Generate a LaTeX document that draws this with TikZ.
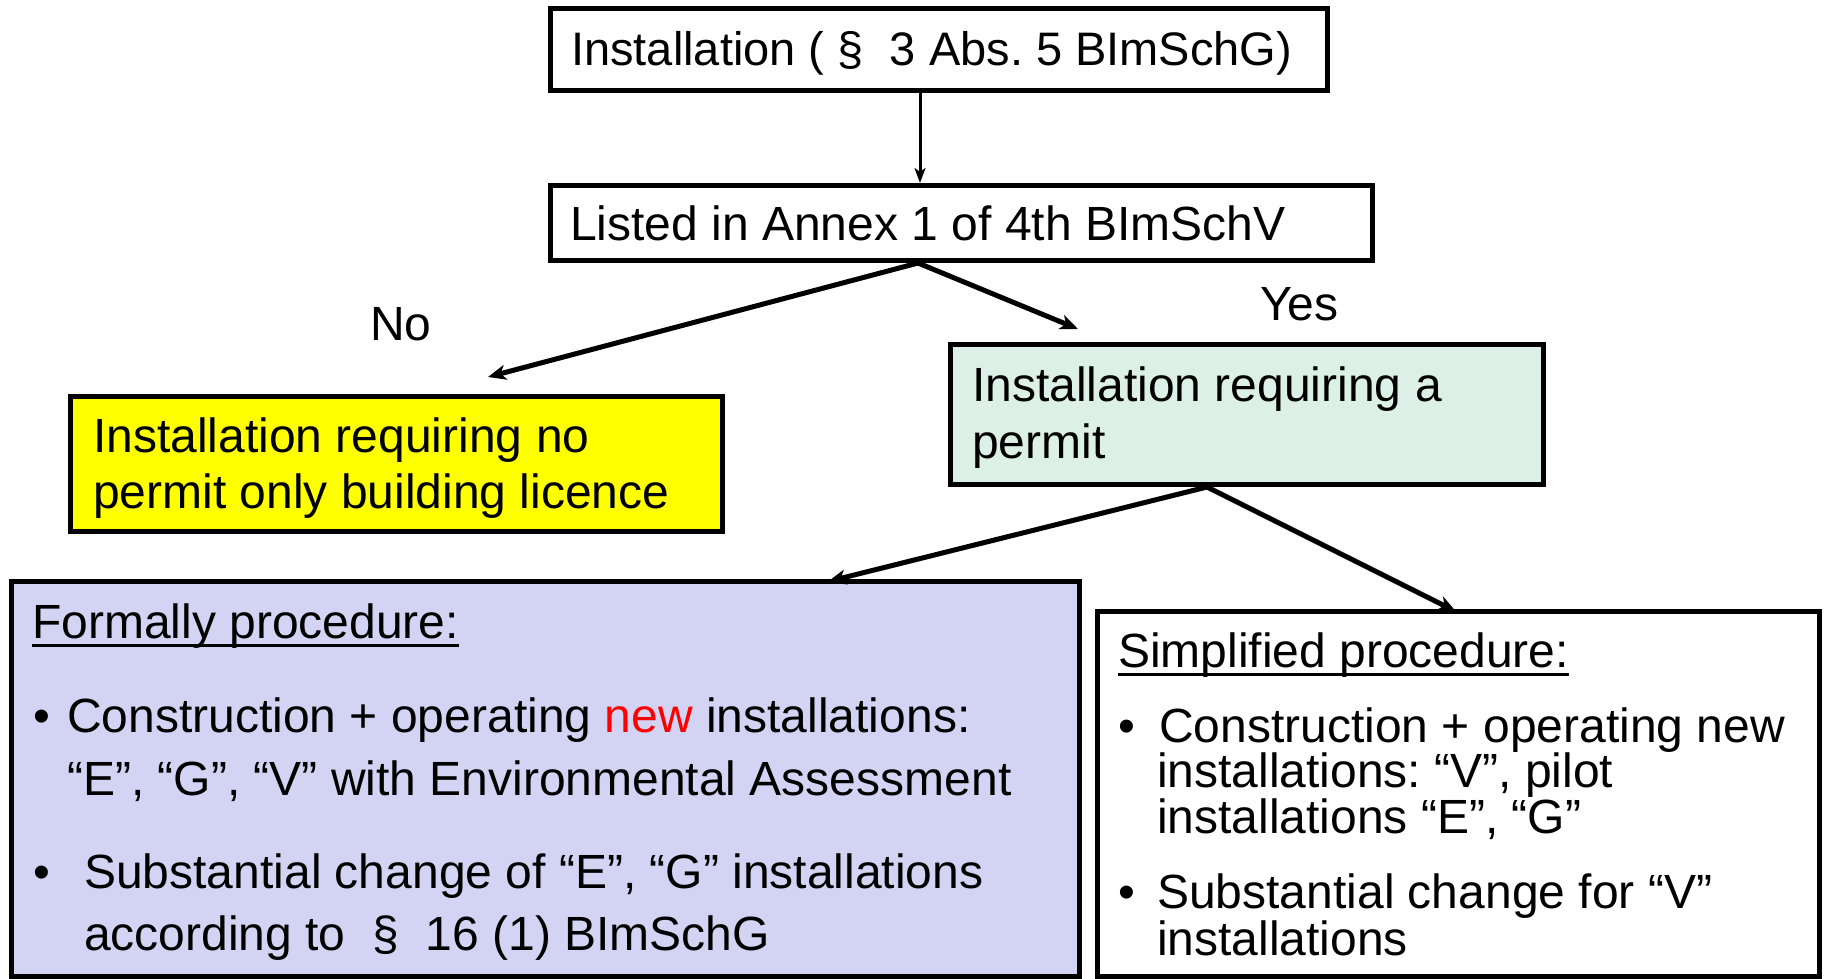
\documentclass[tikz,border=0pt]{standalone}
\usepackage{fontspec}
\setmainfont{Liberation Sans}
\usetikzlibrary{arrows.meta}
\definecolor{yel}{HTML}{FFFF00}
\definecolor{mint}{HTML}{DCF0E8}
\definecolor{lav}{HTML}{D3D3F3}
\frenchspacing
\tikzset{
  box/.style={draw=black, line width=5pt, inner sep=0pt},
  txt/.style={anchor=base west, inner sep=0pt, font=\fontsize{48}{56}\selectfont},
  arr/.style={line width=5pt, -{Stealth[length=18pt,width=15pt,inset=5pt]}},
  thinarr/.style={line width=3pt, -{Stealth[length=15pt,width=11pt,inset=4pt]}},
  ul/.style={line width=3pt}
}
\begin{document}
\begin{tikzpicture}[x=1pt,y=-1pt]
\useasboundingbox (0,0) rectangle (1825,978);
\fill[white] (0,0) rectangle (1825,978);
% boxes
\node[box, minimum width=777pt, minimum height=82pt] (b1) at (939,49.5) {};
\node[box, minimum width=822pt, minimum height=75pt] (b2) at (961.5,223) {};
\node[box, fill=yel, minimum width=652pt, minimum height=135pt] (by) at (396.5,464) {};
\node[box, fill=mint, minimum width=593pt, minimum height=140pt] (bg) at (1247,414.5) {};
\node[box, fill=lav, minimum width=1068pt, minimum height=395pt] (bb) at (545.5,779) {};
\node[box, fill=white, minimum width=721.5pt, minimum height=365pt] (bw) at (1458.25,794) {};
% texts
\node[txt, font=\fontsize{47}{56}\selectfont] (t1) at (571,65) {Installation ( §\ \ 3 Abs. 5 BImSchG)};
\node[txt] (t2) at (570,240) {Listed in Annex 1 of 4th BImSchV};
\node[txt] (ty1) at (93,452) {Installation requiring no};
\node[txt] (ty2) at (93,508) {permit only building licence};
\node[txt] (tg1) at (972,401) {Installation requiring a};
\node[txt] (tg2) at (972,458) {permit};
\node[txt] (no) at (370,340) {No};
\node[txt] (yes) at (1260,320) {Yes};
% formal procedure
\node[txt] (fp) at (32,638) {Formally procedure:};
\draw[ul] ([yshift=-7pt]fp.base west) -- ([yshift=-7pt]fp.base east);
\node[txt] (fb1) at (33,732) {•};
\node[txt] (f1) at (67,732) {Construction + operating \textcolor{red}{new} installations:};
\node[txt] (f2) at (67,795) {“E”, “G”, “V” with Environmental Assessment};
\node[txt] (fb2) at (33,888) {•};
\node[txt] (f3) at (84,888) {Substantial change of “E”, “G” installations};
\node[txt] (f4) at (84,950) {according to\ \ §\ \ 16 (1) BImSchG};
% simplified procedure
\node[txt] (sp) at (1118,667) {Simplified procedure:};
\draw[ul] ([yshift=-7pt]sp.base west) -- ([yshift=-7pt]sp.base east);
\node[txt] (sb1) at (1118,742) {•};
\node[txt] (s1) at (1159,742) {Construction + operating new};
\node[txt] (s2) at (1157,787) {installations: “V”, pilot};
\node[txt] (s3) at (1157,833) {installations “E”, “G”};
\node[txt] (sb2) at (1118,908) {•};
\node[txt] (s4) at (1157,908) {Substantial change for “V”};
\node[txt] (s5) at (1157,955) {installations};
% connectors
\coordinate (k1) at (920,0);
\coordinate (k2) at (918,0);
\coordinate (k3) at (1207,0);
\coordinate (k4) at (828,0);
\coordinate (k5) at (1456,0);
\coordinate (noend) at (488,377);
\coordinate (yesend) at (1078,329);
\draw[thinarr] (b1.south -| k1) -- (b2.north -| k1);
\draw[arr] (b2.south -| k2) -- (noend);
\draw[arr] (b2.south -| k2) -- (yesend);
\draw[arr] (bg.south -| k3) -- ([yshift=-2.5pt]bb.north -| k4);
\draw[arr] (bg.south -| k3) -- ([yshift=-2.5pt]bw.north -| k5);
\end{tikzpicture}
\end{document}
